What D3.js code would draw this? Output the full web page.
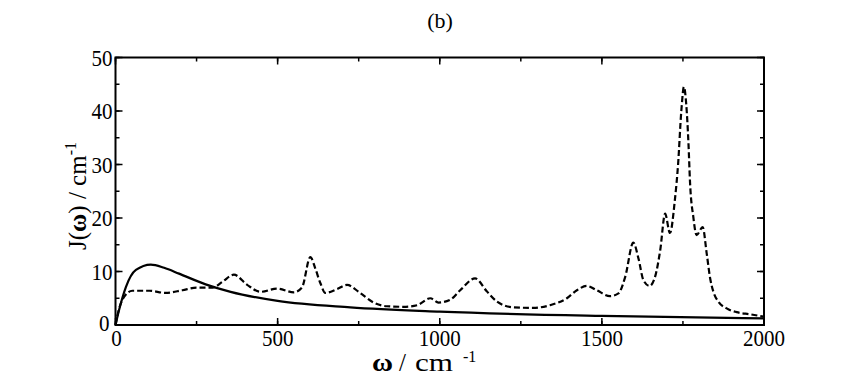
<!DOCTYPE html>
<html>
<head>
<meta charset="utf-8">
<script src="https://cdn.jsdelivr.net/npm/d3@7"></script>
<style>
    body { margin: 0; background: #fff; }
</style>
</head>
<body>
<svg id="chart" width="841" height="382"></svg>
<script>
// values
const solidW = [0, 11, 32, 63, 109, 150, 196, 278, 355, 500, 724, 1000, 1500, 2000];
const solidJ = [0, 2.8, 7.1, 10.3, 11.3, 10.7, 9.6, 7.6, 6.2, 4.5, 3.3, 2.5, 1.7, 1.25];

const dashW = [0, 10, 22, 52, 104, 155, 206, 250, 300, 330, 365, 406, 447, 498, 550, 575, 601, 616, 632, 647,
    683, 714, 752, 796, 837, 889, 930, 971, 996, 1032, 1063, 1109, 1145, 1176, 1227, 1289, 1340, 1392, 1423,
    1454, 1484, 1525, 1551, 1572, 1597, 1613, 1628, 1647, 1664, 1680, 1695, 1710, 1725, 1735, 1745, 1753,
    1760, 1767, 1772, 1782, 1792, 1811, 1823, 1834, 1844, 1859, 1885, 1916, 1957, 2000];
const dashJ = [0, 2.8, 4.8, 6.4, 6.4, 6.0, 6.5, 7.0, 7.0, 8.1, 9.4, 7.5, 6.2, 6.8, 6.1, 7.0, 12.7, 10.6, 7.8, 6.0,
    6.7, 7.5, 6.1, 4.2, 3.5, 3.4, 3.7, 5.0, 4.2, 4.7, 6.5, 8.7, 6.3, 4.4, 3.3, 3.2, 3.7, 5.0, 6.5,
    7.3, 6.5, 5.4, 5.9, 9.0, 15.4, 12.4, 8.4, 7.3, 9.0, 14.0, 20.8, 17.2, 23.3, 30, 40, 44.5,
    41.4, 34, 26.5, 20.2, 16.8, 18.3, 13.5, 8.7, 6.2, 4.4, 3.1, 2.4, 2.0, 1.55];

const xTicks = [0, 500, 1000, 1500, 2000];
const yTicks = [0, 10, 20, 30, 40, 50];

const serif = "'Liberation Serif', 'Times New Roman', Times, 'DejaVu Serif', serif";

let svg = d3.select("#chart");
let pLeft = 115.5, pRight = 764, pTop = 57.5, pBottom = 325;

let x = d3.scaleLinear().domain([0, 2000]).range([pLeft, pRight]);
let y = d3.scaleLinear().domain([0, 50]).range([pBottom, pTop]);

let g = svg.append("g");

// ticks on all four sides, pointing inwards
function drawTicks(vals, len) {
    vals.forEach(function (v) {
        g.append("line").attr("x1", x(v)).attr("x2", x(v)).attr("y1", pBottom).attr("y2", pBottom - len);
        g.append("line").attr("x1", x(v)).attr("x2", x(v)).attr("y1", pTop).attr("y2", pTop + len);
    });
}
function drawYTicks(vals, len) {
    vals.forEach(function (v) {
        g.append("line").attr("y1", y(v)).attr("y2", y(v)).attr("x1", pLeft).attr("x2", pLeft + len);
        g.append("line").attr("y1", y(v)).attr("y2", y(v)).attr("x1", pRight).attr("x2", pRight - len);
    });
}
drawTicks(d3.range(0, 2001, 250), 4);
drawTicks(xTicks, 7);
drawYTicks(d3.range(0, 51, 5), 4);
drawYTicks(yTicks, 7);
g.selectAll("line").attr("stroke", "#000").attr("stroke-width", 1.5);

// curves
let solid = solidW.map(function (w, i) { return [w, solidJ[i]]; });
let dashed = dashW.map(function (w, i) { return [w, dashJ[i]]; });

let line = d3.line()
    .x(function (d) { return x(d[0]); })
    .y(function (d) { return y(d[1]); })
    .curve(d3.curveMonotoneX);

svg.append("path").attr("d", line(solid))
    .attr("fill", "none").attr("stroke", "#000").attr("stroke-width", 2.2);
svg.append("path").attr("d", line(dashed))
    .attr("fill", "none").attr("stroke", "#000").attr("stroke-width", 2.2)
    .attr("stroke-dasharray", "6,3");

// frame
svg.append("rect")
    .attr("x", pLeft).attr("y", pTop)
    .attr("width", pRight - pLeft).attr("height", pBottom - pTop)
    .attr("fill", "none").attr("stroke", "#000").attr("stroke-width", 2);

// tick labels
xTicks.forEach(function (v) {
    svg.append("text").attr("x", x(v) + (v === 0 ? 1 : 0)).attr("y", 346)
        .attr("text-anchor", "middle").attr("font-family", serif).attr("font-size", 23)
        .attr("textLength", String(v).length * 10.5).attr("lengthAdjust", "spacingAndGlyphs").text(v);
});
yTicks.forEach(function (v) {
    svg.append("text").attr("x", v === 0 ? pLeft - 6 : pLeft - 3).attr("y", y(v) + (v === 0 ? 6 : 8))
        .attr("text-anchor", "end").attr("font-family", serif).attr("font-size", 23)
        .attr("textLength", String(v).length * 10.5).attr("lengthAdjust", "spacingAndGlyphs").text(v);
});

// axis titles
let xt = svg.append("text").attr("x", 372).attr("y", 371)
    .attr("font-family", serif).attr("font-size", 25);
xt.append("tspan").attr("font-weight", "bold")
    .attr("textLength", 21).attr("lengthAdjust", "spacingAndGlyphs").text("ω");
xt.append("tspan").attr("x", 399).text("/");
xt.append("tspan").attr("x", 415)
    .attr("textLength", 38).attr("lengthAdjust", "spacingAndGlyphs").text("cm");
xt.append("tspan").attr("x", 463).attr("dy", -9).attr("font-size", 16).text("-1");

let yt = svg.append("text")
    .attr("transform", "translate(86,250) rotate(-90)")
    .attr("font-family", serif).attr("font-size", 25);
yt.append("tspan").text("J(");
yt.append("tspan").attr("font-weight", "bold").text("ω");
yt.append("tspan").text(") / cm");
yt.append("tspan").attr("dy", -10).attr("font-size", 16).text("-1");

svg.append("text").attr("x", 440).attr("y", 28)
    .attr("text-anchor", "middle").attr("font-family", serif).attr("font-size", 22).text("(b)");
</script>
</body>
</html>
